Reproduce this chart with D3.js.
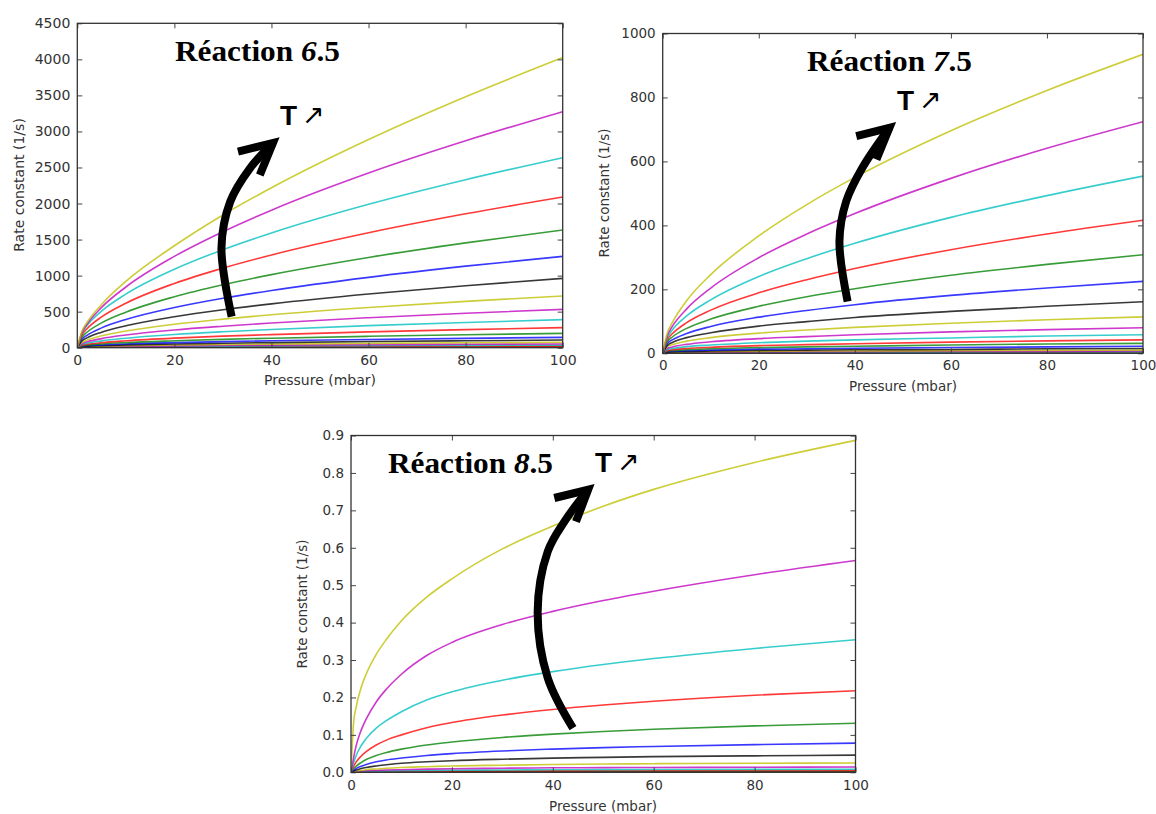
<!DOCTYPE html>
<html><head><meta charset="utf-8">
<script src="https://cdn.jsdelivr.net/npm/d3@7/dist/d3.min.js"></script>
<style>body{margin:0;background:#fff}svg{display:block}</style>
</head><body><svg id="c" width="1156" height="814"></svg>
<script>
// pressure grids (mbar) at which the curves were read
const pressure = [0, 1, 2, 5, 10, 20, 30, 40, 60, 80, 100];
const pressure85 = [0, 0.5, 1, 2, 3, 5, 7, 10, 15, 20, 30, 40, 50, 60, 80, 100];
// matplotlib classic colour cycle, first curve = lowest temperature
const lineColors = ['#0000ff', '#008000', '#ff0000', '#00bfbf', '#bf00bf', '#bfbf00', '#000000'];
const xTicks = [0, 20, 40, 60, 80, 100];

// Réaction 6.5 — rate constants (1/s), lowest T first
const k65 = [
  [0,1,1,2,2,3,4,4,5,5,6],
  [0,2,2,3,5,6,7,8,10,11,12],
  [0,3,4,6,8,11,13,15,18,20,22],
  [0,5,7,10,13,18,21,24,28,32,35],
  [0,8,10,15,19,26,31,35,42,47,52],
  [0,11,14,21,28,37,45,50,60,68,75],
  [0,14,19,28,39,52,62,71,85,96,106],
  [0,19,26,38,52,70,84,96,114,130,143],
  [0,25,34,52,71,96,116,132,158,180,199],
  [0,33,46,70,96,133,160,182,220,251,278],
  [0,45,62,95,132,183,221,253,306,350,389],
  [0,58,81,126,176,246,298,343,416,478,532],
  [0,75,105,165,232,326,397,458,558,643,717],
  [0,96,136,215,304,430,527,608,745,860,962],
  [0,121,172,275,391,557,686,794,976,1131,1267],
  [0,149,214,344,493,707,873,1014,1252,1454,1633],
  [0,182,263,427,617,891,1104,1286,1594,1857,2090],
  [0,209,307,507,743,1088,1360,1592,1990,2331,2636],
  [0,216,326,559,842,1267,1609,1908,2423,2870,3275],
  [0,235,350,600,920,1414,1841,2218,2887,3481,4024]
];
// Réaction 7.5
const k75 = [
  [0,0.2,0.3,0.4,0.5,0.7,0.8,0.9,1,1.1,1.2],
  [0,0.4,0.5,0.7,0.9,1.1,1.3,1.5,1.7,1.9,2],
  [0,0.6,0.8,1,1.3,1.7,2,2.2,2.5,2.8,3],
  [0,1,1,1.5,2,2.5,3,3.3,3.8,4.2,4.5],
  [0,1,2,2,3,4,5,5,6,6,7],
  [0,2,3,4,5,6,7,7,8,9,10],
  [0,3,4,5,7,9,10,11,12,14,15],
  [0,5,6,8,10,13,14,16,18,20,22],
  [0,7,8,11,14,18,20,22,26,29,31],
  [0,9,11,15,19,24,27,30,35,39,42],
  [0,12,15,21,26,33,38,42,48,54,58],
  [0,16,20,28,36,46,52,58,67,74,80],
  [0,21,27,38,49,63,73,81,94,105,114],
  [0,25,34,49,64,85,99,112,131,147,161],
  [0,31,42,62,84,113,134,152,181,204,225],
  [0,37,51,78,107,147,177,202,244,278,308],
  [0,44,61,96,135,189,230,265,324,373,416],
  [0,50,73,117,167,240,296,344,425,493,554],
  [0,57,84,139,204,299,373,437,547,641,724],
  [0,65,96,165,246,367,465,550,696,822,935]
];
// Réaction 8.5 (read on pressure85)
const k85 = [
  [0,0,0,0,0,0,0,0,0,0,0,0,0,0,0,0],
  [0,0,0,0,0,0,0,0,0,0,0,0,0,0,0.00002,0.00002],
  [0,0,0,0,0,0,0,0,0,0,0,0,0,0,0.00005,0.00005],
  [0,0,0,0,0,0,0,0.0001,0.0001,0.0001,0.0001,0.0001,0.0001,0.0001,0.0001,0.0001],
  [0,0,0,0.0001,0.0001,0.0001,0.0001,0.0001,0.0001,0.0001,0.0002,0.0002,0.0002,0.0002,0.0002,0.0002],
  [0,0.00005,0.0001,0.0001,0.0001,0.0002,0.0002,0.0002,0.0003,0.0003,0.0003,0.0003,0.0004,0.0004,0.0004,0.0004],
  [0,0.0001,0.0001,0.0002,0.0002,0.0003,0.0004,0.0004,0.0005,0.0005,0.0006,0.0007,0.0007,0.0007,0.0008,0.0008],
  [0,0.0001,0.0002,0.0003,0.0004,0.0005,0.0006,0.0007,0.0008,0.0009,0.0011,0.0012,0.0012,0.0013,0.0013,0.0014],
  [0,0.0002,0.0003,0.0005,0.0007,0.0009,0.0011,0.0013,0.0015,0.0017,0.0019,0.0021,0.0022,0.0023,0.0024,0.0025],
  [0,0.0003,0.0006,0.001,0.0013,0.0017,0.002,0.0023,0.0027,0.003,0.0035,0.0038,0.004,0.0042,0.0044,0.0045],
  [0,0.0006,0.001,0.0017,0.0022,0.003,0.0035,0.004,0.0048,0.0054,0.0062,0.0067,0.0071,0.0074,0.0077,0.008],
  [0,0.001,0.002,0.003,0.004,0.005,0.006,0.007,0.0085,0.0095,0.011,0.012,0.0125,0.013,0.0135,0.014],
  [0,0.002,0.003,0.005,0.007,0.009,0.011,0.013,0.015,0.017,0.019,0.021,0.022,0.023,0.024,0.025],
  [0,0.003,0.006,0.010,0.013,0.017,0.020,0.024,0.028,0.031,0.035,0.038,0.040,0.042,0.044,0.046],
  [0,0.005,0.010,0.016,0.021,0.028,0.033,0.038,0.045,0.050,0.057,0.062,0.066,0.069,0.074,0.078],
  [0,0.009,0.016,0.026,0.034,0.045,0.053,0.062,0.073,0.081,0.093,0.102,0.109,0.115,0.124,0.131],
  [0,0.015,0.027,0.043,0.055,0.073,0.086,0.100,0.119,0.133,0.153,0.168,0.180,0.190,0.206,0.218],
  [0,0.024,0.044,0.071,0.090,0.118,0.138,0.162,0.193,0.215,0.246,0.269,0.288,0.304,0.331,0.354],
  [0,0.038,0.070,0.112,0.142,0.188,0.222,0.262,0.312,0.347,0.395,0.430,0.459,0.484,0.528,0.566],
  [0,0.130,0.173,0.226,0.262,0.315,0.355,0.405,0.468,0.517,0.597,0.658,0.711,0.756,0.828,0.887]
];
const yTicks65 = [0,500,1000,1500,2000,2500,3000,3500,4000,4500];
const yTicks75 = [0,200,400,600,800,1000];
const yTicks85 = [0,0.1,0.2,0.3,0.4,0.5,0.6,0.7,0.8,0.9];

// annotation arrows (data units: pressure, rate constant)
const arrow65 = [[31.8,430],[29.7,1383],[31.5,2025],[35.6,2492],[40.3,2839]];
const head65  = [[33.1,2719],[40.3,2839],[37.6,2395]];
const arrow75 = [[38.5,162],[36.8,350],[38.2,475],[41.6,581],[47.2,705]];
const head75  = [[40.3,679],[47.2,705],[44.5,606]];
const arrow85 = [[44.0,0.118],[39.0,0.252],[37.0,0.429],[39.0,0.590],[42.3,0.670],[47.0,0.755]];
const head85  = [[40.3,0.733],[47.0,0.755],[44.6,0.670]];

const svg = d3.select('#c');
svg.append('rect').attr('width',1156).attr('height',814).attr('fill','#fff');

function panel(o, idx) {
  const x = d3.scaleLinear().domain([0,100]).range([o.left,o.right]);
  const y = d3.scaleLinear().domain([0,o.ymax]).range([o.bottom,o.top]);
  const g = svg.append('g');
  const cid = 'clip'+idx;
  svg.append('defs').append('clipPath').attr('id',cid)
    .append('rect').attr('x',o.left).attr('y',o.top)
    .attr('width',o.right-o.left).attr('height',o.bottom-o.top);
  const line = d3.line().x((d,j)=>x(o.p[j])).y(d=>y(d)).curve(d3.curveMonotoneX);
  const lg = g.append('g').attr('clip-path',`url(#${cid})`);
  o.data.forEach((row,i)=>{
    lg.append('path').attr('d',line(row)).attr('fill','none')
      .attr('stroke',lineColors[i%7]).attr('stroke-width',1.6).attr('stroke-opacity',0.78);
  });
  const fs = o.fs;
  const styleAxis = (sel, labels) => {
    sel.select('.domain').remove();
    sel.selectAll('.tick line').attr('stroke','#444').attr('stroke-width',1);
    sel.selectAll('.tick text').attr('fill','#333').attr('font-size',fs)
       .attr('font-family','DejaVu Sans, sans-serif');
    if(!labels) sel.selectAll('.tick text').remove();
  };
  g.append('g').attr('transform',`translate(0,${o.bottom})`)
    .call(d3.axisBottom(x).tickValues(xTicks).tickSize(-5).tickPadding(o.xpad)).call(s=>styleAxis(s,true));
  g.append('g').attr('transform',`translate(0,${o.top})`)
    .call(d3.axisTop(x).tickValues(xTicks).tickSize(-5)).call(s=>styleAxis(s,false));
  g.append('g').attr('transform',`translate(${o.left},0)`)
    .call(d3.axisLeft(y).tickValues(o.yTicks).tickFormat(o.fmt).tickSize(-5).tickPadding(o.ypad)).call(s=>styleAxis(s,true));
  g.append('g').attr('transform',`translate(${o.right},0)`)
    .call(d3.axisRight(y).tickValues(o.yTicks).tickSize(-5)).call(s=>styleAxis(s,false));
  g.append('rect').attr('x',o.left).attr('y',o.top).attr('width',o.right-o.left).attr('height',o.bottom-o.top)
    .attr('fill','none').attr('stroke','#333').attr('stroke-width',1.3);
  g.append('text').attr('x',o.xl[0]).attr('y',o.xl[1]).attr('text-anchor','middle')
    .attr('font-family','DejaVu Sans, sans-serif').attr('font-size',fs).attr('fill','#333').text('Pressure (mbar)');
  g.append('text').attr('transform',`translate(${o.yl[0]},${o.yl[1]}) rotate(-90)`).attr('text-anchor','middle')
    .attr('font-family','DejaVu Sans, sans-serif').attr('font-size',fs).attr('fill','#333').text('Rate constant (1/s)');
  // title
  const t = g.append('text').attr('x',o.title[0]).attr('y',o.title[1])
    .attr('font-family','Liberation Serif, serif').attr('font-weight','bold').attr('font-size',30).attr('fill','#000')
    .attr('textLength',165).attr('lengthAdjust','spacingAndGlyphs');
  t.append('tspan').text('Réaction ');
  t.append('tspan').attr('font-style','italic').text(o.num);
  t.append('tspan').text('.5');
  // T ↗
  g.append('text').attr('x',o.tp[0]).attr('y',o.tp[1]).attr('font-family','Liberation Sans, Arial, sans-serif')
    .attr('font-weight','bold').attr('font-size',28).attr('fill','#000').text('T');
  g.append('text').attr('x',o.tp[0]+22).attr('y',o.tp[1]-1).attr('font-family','DejaVu Sans, sans-serif')
    .attr('font-size',27).attr('fill','#000').text('↗');
  // big arrow
  const al = d3.line().x(d=>x(d[0])).y(d=>y(d[1]));
  g.append('path').attr('d',al.curve(d3.curveCatmullRom)(o.arrow)).attr('fill','none')
    .attr('stroke','#000').attr('stroke-width',8);
  g.append('path').attr('d',d3.line().x(d=>x(d[0])).y(d=>y(d[1]))(o.head)).attr('fill','none')
    .attr('stroke','#000').attr('stroke-width',8).attr('stroke-linejoin','miter').attr('stroke-linecap','butt');
}

panel({left:77.3,right:562.7,top:23.3,bottom:347.7,ymax:4500,yTicks:yTicks65,fmt:d3.format('d'),p:pressure,
  data:k65,fs:14,xpad:7,ypad:7,xl:[320,385],yl:[24,185],title:[175,61],num:'6',tp:[280,125],
  arrow:arrow65,head:head65},1);
panel({left:662.7,right:1143,top:33.5,bottom:353.3,ymax:1000,yTicks:yTicks75,fmt:d3.format('d'),p:pressure,
  data:k75,fs:13.5,xpad:7,ypad:7,xl:[903,391],yl:[609,193],title:[807,71],num:'7',tp:[897,110],
  arrow:arrow75,head:head75},2);
panel({left:351,right:855.5,top:435.5,bottom:772.3,ymax:0.9,yTicks:yTicks85,fmt:d3.format('.1f'),p:pressure85,
  data:k85,fs:13.5,xpad:8,ypad:7,xl:[603,811],yl:[307,604],title:[388,473],num:'8',tp:[595,472],
  arrow:arrow85,head:head85},3);
</script></body></html>
